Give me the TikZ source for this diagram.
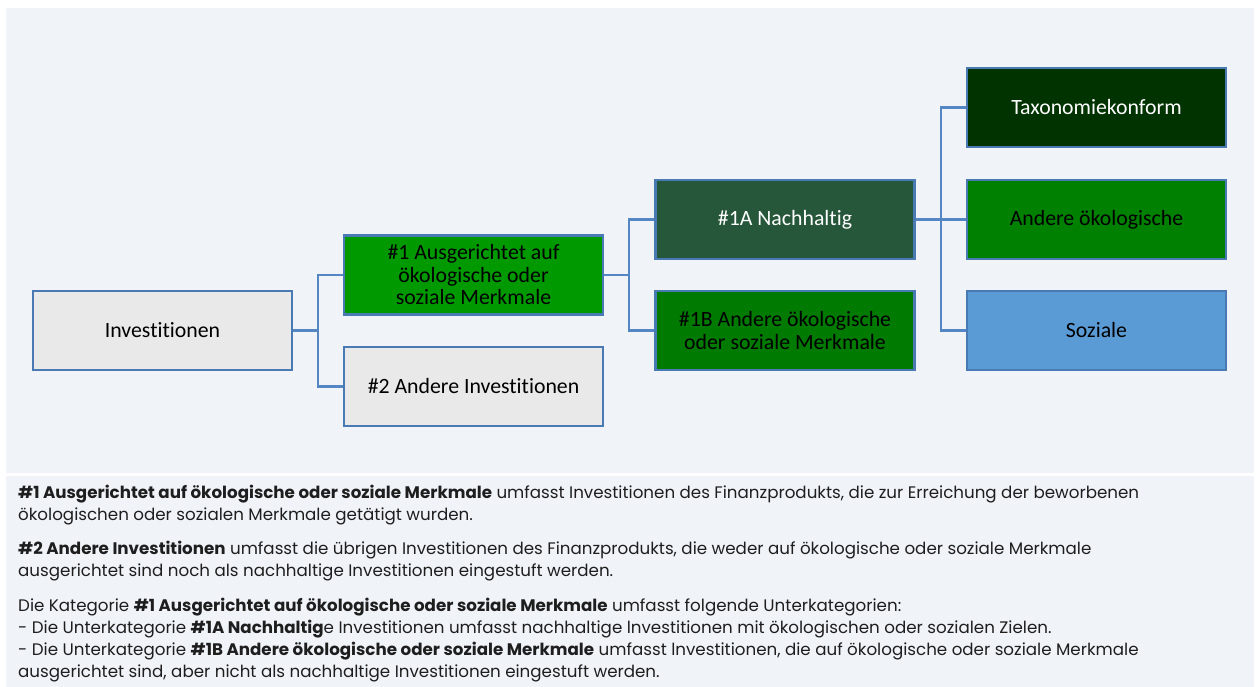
\documentclass[tikz,border=0pt]{standalone}
\usepackage{fontspec}
\setmainfont{Carlito}[Ligatures={NoCommon}]
\newfontfamily\descfont{Poppins}
\definecolor{panelbg}{RGB}{240,244,249}
\definecolor{bordercol}{RGB}{74,122,180}
\definecolor{linkcol}{RGB}{84,134,196}
\definecolor{grayfill}{RGB}{232,233,232}
\definecolor{greenA}{RGB}{0,154,0}
\definecolor{greenDark}{RGB}{38,87,58}
\definecolor{greenB}{RGB}{0,122,0}
\definecolor{greenTaxo}{RGB}{0,51,0}
\definecolor{greenOther}{RGB}{0,128,0}
\definecolor{blueSoz}{RGB}{91,155,213}
\definecolor{desctext}{RGB}{30,30,30}
\tikzset{
  box/.style={draw=bordercol, line width=2.3pt, minimum width=259, minimum height=79,
    align=center, inner sep=2pt, font=\fontsize{21.8}{22.5}\selectfont},
  link/.style={draw=linkcol, line width=2.3pt},
  desc/.style={anchor=base west, inner sep=0pt, text=desctext,
    font=\descfont\fontsize{16.7}{22.5}\selectfont}
}
\begin{document}
\begin{tikzpicture}[x=1pt,y=-1pt]
\useasboundingbox (0,0) rectangle (1259,687);
\fill[white] (0,0) rectangle (1259,687);
\fill[panelbg] (6,8) rectangle (1254,473);
\fill[panelbg] (6,476) rectangle (1254,687);

\coordinate (j1) at (318,330.5);
\coordinate (j2) at (629,275);
\coordinate (j3) at (941,219.5);

\node[box, fill=grayfill] (inv) at (162.5,330.5) {Investitionen};
\node[box, fill=greenA] (n1) at (473.5,275) {\#1 Ausgerichtet auf\\ökologische oder\\soziale Merkmale};
\node[box, fill=grayfill] (n2) at (473.5,386.5) {\#2 Andere Investitionen};
\node[box, fill=greenDark, text=white] (n1a) at (785,219.5) {\#1A Nachhaltig};
\node[box, fill=greenB] (n1b) at (785,330.5) {\#1B Andere ökologische\\oder soziale Merkmale};
\node[box, fill=greenTaxo, text=white] (taxo) at (1096.5,107.5) {Taxonomiekonform};
\node[box, fill=greenOther] (andere) at (1096.5,219.5) {Andere ökologische};
\node[box, fill=blueSoz] (soz) at (1096.5,330.5) {Soziale};

\draw[link] (inv.east) -- (j1) |- (n1.west);
\draw[link] (j1) |- (n2.west);
\draw[link] (n1.east) -- (j2) |- (n1a.west);
\draw[link] (j2) |- (n1b.west);
\draw[link] (n1a.east) -- (andere.west);
\draw[link] (j3) |- (taxo.west);
\draw[link] (j3) |- (soz.west);

\node[desc] (p1a) at (18,498) {\textbf{\#1 Ausgerichtet auf ökologische oder soziale Merkmale} umfasst Investitionen des Finanzprodukts, die zur Erreichung der beworbenen};
\node[desc] (p1b) at (18,520.5) {ökologischen oder sozialen Merkmale getätigt wurden.};
\node[desc] (p2a) at (18,554) {\textbf{\#2 Andere Investitionen} umfasst die übrigen Investitionen des Finanzprodukts, die weder auf ökologische oder soziale Merkmale};
\node[desc] (p2b) at (18,576.5) {ausgerichtet sind noch als nachhaltige Investitionen eingestuft werden.};
\node[desc] (p3a) at (18,611) {Die Kategorie \textbf{\#1 Ausgerichtet auf ökologische oder soziale Merkmale} umfasst folgende Unterkategorien:};
\node[desc] (p3b) at (18,633) {- Die Unterkategorie \textbf{\#1A Nachhaltig}e Investitionen umfasst nachhaltige lnvestitionen mit ökologischen oder sozialen Zielen.};
\node[desc] (p3c) at (18,655) {- Die Unterkategorie \textbf{\#1B Andere ökologische oder soziale Merkmale} umfasst lnvestitionen, die auf ökologische oder soziale Merkmale};
\node[desc] (p3d) at (18,677) {ausgerichtet sind, aber nicht als nachhaltige Investitionen eingestuft werden.};
\end{tikzpicture}
\end{document}
